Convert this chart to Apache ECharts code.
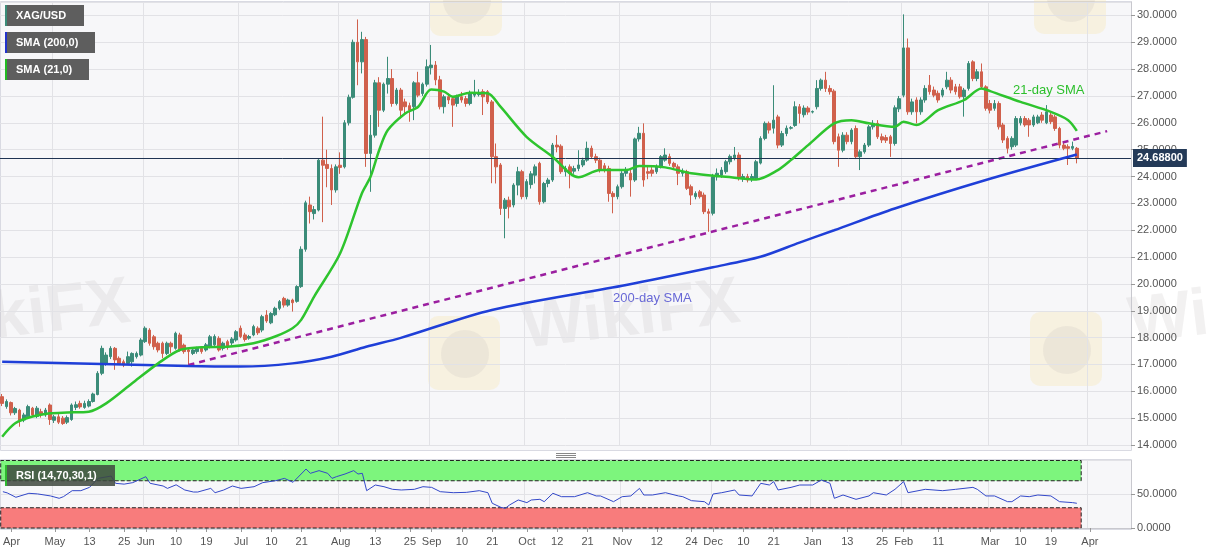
<!DOCTYPE html>
<html><head><meta charset="utf-8">
<script src="https://cdn.jsdelivr.net/npm/echarts/dist/echarts.min.js"></script>
<style>html,body{margin:0;padding:0;background:#fff}#c{width:1207px;height:555px}</style>
</head><body><div id="c"></div>
<script>
// ---------- data ----------
const startDate = '2020-04-15';
const endDate = '2021-04-14';
// daily candles from 2020-04-15 to 2021-03-29: [open, close, low, high]
const ohlc = [
[15.80,15.55,15.45,15.90],[15.43,15.62,15.35,15.70],[15.58,15.20,15.10,15.62],[15.20,15.36,15.12,15.42],
[15.30,14.93,14.68,15.35],[14.93,15.12,14.85,15.20],[15.05,15.43,14.98,15.50],[15.37,15.12,15.05,15.42],
[15.06,15.37,15.00,15.45],[15.24,15.12,15.02,15.35],[15.12,15.30,15.05,15.38],[15.49,14.95,14.75,15.55],
[14.92,15.05,14.82,15.12],[15.05,14.85,14.78,15.15],[15.00,14.80,14.75,15.08],[14.85,15.02,14.78,15.10],
[14.95,15.49,14.90,15.55],[15.40,15.50,15.30,15.62],[15.55,15.42,15.35,15.65],[15.40,15.55,15.35,15.65],
[15.45,15.62,15.40,15.70],[15.62,15.90,15.58,15.95],[15.88,16.67,15.85,16.75],[16.67,17.60,16.60,17.70],
[17.00,17.35,16.95,17.45],[17.29,17.60,17.20,17.68],[17.60,17.17,16.80,17.65],[17.23,17.04,16.98,17.30],
[17.10,16.98,16.90,17.18],[17.04,17.29,16.98,17.48],[17.10,17.41,16.92,17.45],[17.29,17.41,17.22,17.48],
[17.35,17.91,17.30,17.98],
[17.85,18.35,17.80,18.42],[18.28,17.79,17.70,18.35],[18.03,17.66,17.55,18.10],[17.79,17.54,17.45,17.85],
[17.79,17.41,17.23,17.85],[17.41,17.79,17.35,17.85],[17.79,17.66,17.42,17.85],[17.60,18.16,17.55,18.22],
[18.10,17.54,17.48,18.18],[17.72,17.48,17.40,17.78],[17.54,17.48,16.98,17.60],[17.41,17.54,17.35,17.62],
[17.48,17.60,17.40,17.66],[17.60,17.48,17.40,17.66],[17.54,17.73,17.48,17.80],[17.66,18.03,17.60,18.10],
[17.73,18.04,17.68,18.12],[17.97,17.54,17.48,18.05],[17.60,17.79,17.52,17.85],[17.85,17.66,17.55,17.92],
[17.80,17.95,17.72,18.02],[17.91,18.22,17.85,18.28],
[18.35,18.04,17.98,18.45],[18.10,17.93,17.85,18.18],[17.98,18.04,17.92,18.10],[18.10,18.41,18.05,18.48],
[18.35,18.18,18.10,18.42],[18.28,18.78,18.20,18.85],[18.84,18.62,18.55,19.02],[18.55,18.90,18.50,18.95],
[18.85,19.09,18.80,19.15],[19.09,19.34,19.02,19.40],[19.46,19.21,19.12,19.52],[19.21,19.40,19.15,19.45],
[19.40,19.30,18.97,19.45],[19.35,19.90,19.30,19.95],[19.90,21.29,19.85,21.40],[21.29,23.02,21.20,23.10],
[22.94,22.69,22.25,23.25],[22.62,22.77,22.40,22.90],[22.75,24.61,22.70,24.65],[24.61,24.42,22.30,26.23],
[24.45,24.30,23.60,25.00],[24.30,23.50,22.94,24.45],[23.50,24.36,23.40,24.45],
[24.42,24.34,24.10,24.90],[24.36,26.00,24.30,26.10],[26.00,26.95,25.90,27.05],[26.95,29.00,26.90,29.10],
[29.00,28.27,27.40,29.85],[28.27,29.10,27.84,29.39],[29.10,24.86,24.36,29.20],[24.86,25.54,23.43,26.29],
[25.54,27.49,25.45,27.60],[27.49,26.47,25.85,27.70],[26.47,27.44,26.40,27.50],[27.44,27.65,27.09,28.46],
[27.65,26.72,26.60,28.00],[26.72,27.22,26.65,27.30],[27.22,26.47,26.16,27.30],[26.78,26.60,26.30,26.90],
[26.64,26.47,26.04,26.75],[26.60,27.49,26.10,27.55],[27.49,27.03,26.95,27.90],[27.09,27.44,27.00,27.50],
[27.44,28.09,27.35,28.36],
[28.05,28.15,27.80,28.90],[28.15,27.60,27.40,28.30],[27.60,26.60,26.50,27.75],[26.60,26.97,26.35,27.05],
[26.97,26.85,26.70,27.10],[26.90,26.66,25.85,27.00],[26.72,26.97,26.60,27.05],[26.97,26.85,26.75,27.15],
[26.90,26.72,26.60,27.00],[26.72,27.10,26.65,27.20],[27.03,27.10,26.95,27.60],[27.05,27.12,26.98,27.25],
[27.16,26.97,26.29,27.25],[27.16,26.78,26.70,27.22],[26.78,24.74,23.75,26.85],[24.74,24.36,23.74,25.23],
[24.43,22.81,22.57,24.50],[22.81,23.12,21.70,23.20],[23.12,22.87,22.44,23.25],[22.94,23.68,22.85,23.75],
[23.68,24.18,23.30,24.36],[24.18,23.25,23.15,24.25],
[23.25,23.81,23.15,23.90],[23.70,24.10,23.55,24.20],[24.05,24.36,23.74,24.45],[24.49,23.06,22.95,24.55],
[23.06,23.74,23.00,23.80],[23.74,23.87,23.60,23.95],[23.87,25.17,23.80,25.25],[25.17,25.10,24.90,25.54],
[25.13,24.18,24.10,25.20],[24.18,24.30,24.00,24.40],[24.36,24.12,23.56,24.45],[24.20,24.30,24.10,24.40],
[24.30,24.43,24.20,24.98],[24.43,24.61,24.35,24.70],[24.61,25.05,24.55,25.30],[25.05,24.74,24.65,25.15],
[24.74,24.61,24.50,24.85],[24.61,24.24,24.15,24.70],[24.40,24.25,24.15,24.50],[24.30,23.37,23.06,24.40],
[23.37,23.25,22.63,23.45],[23.25,23.62,23.15,23.70],
[23.62,24.12,23.55,24.20],[24.12,24.24,24.00,24.35],[24.12,23.87,23.25,24.25],[23.87,25.40,23.80,25.45],
[25.40,25.61,25.30,25.85],[25.61,23.87,23.62,25.98],[24.18,24.12,23.90,24.40],[24.24,24.12,24.00,24.35],
[24.18,24.36,24.10,24.45],[24.36,24.74,24.30,24.80],[24.61,24.80,24.55,25.05],[24.74,24.49,24.40,24.85],
[24.49,24.36,24.28,24.55],[24.36,24.12,23.68,24.45],[24.12,24.20,24.00,24.30],[24.18,23.56,23.50,24.25],
[23.62,23.31,22.94,23.70],[23.25,23.37,23.15,23.45],[23.43,23.25,23.18,23.50],[23.31,22.69,22.60,23.40],
[22.69,22.63,21.94,22.80],
[22.63,23.99,22.55,24.10],[23.99,24.12,23.85,24.30],[24.05,24.24,23.95,24.35],[24.18,24.55,24.10,24.62],
[24.55,24.75,24.45,24.82],[24.70,24.80,24.60,25.10],[24.80,23.93,23.85,24.90],[23.93,24.00,23.80,24.10],
[24.00,23.87,23.78,24.10],[23.90,24.00,23.80,24.10],[23.93,24.55,23.88,24.62],[24.50,25.42,24.45,25.50],
[25.42,25.98,25.35,26.05],[25.98,25.73,25.60,26.05],[25.80,26.10,25.60,27.40],[26.22,25.17,25.05,26.30],
[25.17,25.60,25.10,25.70],[25.60,25.80,25.50,25.90],[25.80,25.82,25.75,25.88],[25.90,26.60,25.85,26.80],
[26.60,26.35,25.98,26.70],[26.30,26.55,26.20,26.65],[26.55,26.40,26.30,26.62],
[26.40,26.42,26.35,26.46],[26.60,27.28,26.50,27.59],[27.28,27.59,27.20,27.65],[27.59,27.28,27.15,27.90],
[27.28,27.16,27.05,27.40],[27.18,25.30,25.20,27.25],[25.48,24.98,24.36,25.60],[24.98,25.54,24.90,25.65],
[25.54,25.30,25.20,25.65],[25.30,25.73,25.20,25.80],[25.79,24.74,24.65,25.90],[24.74,24.92,24.24,25.00],
[24.92,25.17,24.85,25.25],[25.17,25.85,25.10,25.92],[25.85,25.98,25.75,26.10],[25.98,25.48,25.40,26.10],
[25.48,25.36,25.25,25.60],[25.45,25.35,25.25,25.55],[25.48,25.23,24.73,25.55],[25.23,26.56,25.15,26.65],
[26.52,26.90,26.40,27.00],
[27.03,28.79,26.95,30.04],[28.79,26.41,26.30,29.14],[26.41,26.78,26.30,26.90],[26.85,26.41,25.98,26.95],
[26.41,26.85,26.30,26.95],[26.85,27.28,26.75,27.40],[27.40,27.16,27.05,27.78],[27.22,27.03,26.95,27.35],
[27.10,26.85,26.75,27.20],[27.03,27.22,26.95,27.30],[27.34,27.59,27.25,27.90],[27.59,27.22,27.10,27.70],
[27.34,27.16,27.05,27.45],[27.34,26.97,26.90,27.45],[26.97,27.22,26.23,27.30],[27.28,28.21,27.20,28.30],
[28.27,27.65,27.55,28.33],[27.65,27.90,27.55,28.00],[27.90,27.34,27.25,28.21],[27.34,26.54,26.45,27.40],
[26.72,26.47,26.35,26.85],[26.54,26.72,26.45,26.85],[26.72,25.85,25.75,26.80],[25.92,25.36,25.25,26.00],
[25.42,25.05,24.86,25.50],[25.11,25.42,25.00,25.50],[25.17,26.16,25.10,26.25],[26.00,26.16,25.90,26.25],
[26.16,25.92,25.85,26.25],[26.10,25.92,25.48,26.18],[25.92,26.22,25.85,26.30],[26.00,26.22,25.95,26.30],
[26.29,26.10,26.00,26.40],[26.00,26.41,25.95,26.66],[26.29,26.04,25.95,26.40],[26.22,25.79,25.70,26.30],
[25.79,25.17,25.05,25.85],[25.17,25.05,24.98,25.30],[25.11,25.05,24.43,25.20],[25.05,25.12,24.98,25.30],
[25.05,24.69,24.49,25.10]
];
// [category index, value]
const sma200 = [[0,17.10],[23,17.02],[43,16.94],[55,16.92],[67,17.04],[76,17.29],[84,17.66],[92,17.99],
[113,19.03],[144,19.96],[164,20.62],[175,21.01],[184,21.54],[192,22.0],[206,22.81],[227,23.87],[248,24.82]];
const sma21 = [[0,14.31],[3,14.81],[7,15.06],[11,15.18],[15,15.21],[20,15.24],[24,15.55],[30,16.3],[36,17.04],
[41,17.54],[46,17.64],[52,17.66],[58,17.79],[63,18.04],[67,18.35],[69,18.66],[72,19.53],[78,21.14],[83,23.37],
[85,23.99],[87,24.98],[89,25.73],[93,26.35],[96,26.6],[99,27.24],[102,27.16],[104,26.97],[108,27.12],[112,27.1],
[115,26.6],[121,25.48],[127,24.74],[133,23.97],[138,24.24],[144,24.24],[147,24.39],[153,24.34],[159,24.12],
[167,23.99],[174,23.89],[179,24.24],[182,24.61],[186,25.17],[192,25.98],[196,26.1],[200,25.98],[206,25.85],
[208,26.04],[211,25.92],[216,26.47],[222,26.85],[226,27.28],[228,27.18],[235,26.78],[242,26.41],[246,26.1],[248,25.7]];
const trendline = [[43,16.98],[255,25.69]];
const rsi = [[0,53.8],[1,52],[3,45.5],[6,51.4],[8,50.5],[11,47.5],[13,44],[14,46.5],[16,55.3],[18,55.3],[20,60.2],
[22,73.5],[25,77],[26,66.2],[28,65],[30,67.2],[33,76],[34,66.2],[37,62.2],[38,58.7],[40,64],[42,56.3],[44,53.3],
[45,53.3],[48,58.7],[49,52.3],[51,56.3],[53,62.2],[55,58.7],[58,61.2],[60,67.2],[63,70.1],[65,73.5],[67,67.7],
[70,87.4],[71,81],[73,85],[75,81],[76,73.5],[77,76],[79,80],[81,85],[82,80],[83,81],[84,55.3],[86,63.7],[88,61.2],
[90,57.3],[92,56.3],[95,57.3],[97,61.2],[99,60.2],[101,53.8],[104,52.3],[107,52.8],[110,55.3],[112,52.3],[113,36.6],
[115,30.6],[116,29.1],[117,34.1],[119,41.5],[121,37.6],[122,41.5],[124,42.5],[125,39],[127,51.4],[129,46.4],
[132,46.4],[135,52.3],[137,47.5],[138,47.5],[141,39],[143,46.4],[145,47.5],[147,58.7],[148,48.9],[150,48.9],
[153,52.3],[156,47.5],[157,46.4],[159,40.5],[162,39],[163,34.1],[164,50.4],[166,52.3],[169,56.3],[170,48.9],
[173,47.5],[175,66.2],[177,63.7],[178,68.7],[179,56.3],[182,60.2],[184,63.7],[187,63.7],[189,71.1],[191,66.2],
[192,44],[194,48.9],[197,42.5],[200,47.5],[201,52.3],[204,48.9],[206,57.3],[208,68.7],[209,52.3],[213,57.3],
[217,55.3],[220,57.3],[224,60.2],[225,57.3],[227,47.5],[229,47.5],[232,39],[233,39],[235,47.5],[237,46.4],
[239,48.9],[242,47.5],[244,39],[247,37.6],[248,36.6]];
const lastPrice = 24.688;
const rsiLevels = [30, 70];
const rsiZoneEnd = 249;
const xLabels = [[2,'Apr'],[12,'May'],[20,'13'],[28,'25'],[33,'Jun'],[40,'10'],[47,'19'],[55,'Jul'],[62,'10'],
[69,'21'],[78,'Aug'],[86,'13'],[94,'25'],[99,'Sep'],[106,'10'],[113,'21'],[121,'Oct'],[128,'12'],[135,'21'],
[143,'Nov'],[151,'12'],[159,'24'],[164,'Dec'],[171,'10'],[178,'21'],[187,'Jan'],[195,'13'],[203,'25'],
[208,'Feb'],[216,'11'],[228,'Mar'],[235,'10'],[242,'19'],[251,'Apr']];
const monthStarts = [12,33,55,78,99,121,143,164,187,208,228,251];

// ---------- build ----------
function weekdays(s, e) {
  const out = []; const d = new Date(s + 'T00:00:00Z'); const end = new Date(e + 'T00:00:00Z');
  while (d <= end) { const w = d.getUTCDay(); if (w !== 0 && w !== 6) out.push(d.toISOString().slice(0, 10)); d.setUTCDate(d.getUTCDate() + 1); }
  return out;
}
const cats = weekdays(startDate, endDate);
const labelMap = new Map(xLabels);
const monthSet = new Set(monthStarts);
const FONT = '"Liberation Sans", Arial, sans-serif';
const UP = '#3b8c79', DOWN = '#d0604c';

function tag(x, y, w, h, stripe, label, bg) {
  return { type: 'group', left: x, top: y, z: 100, children: [
    { type: 'rect', z: 100, shape: { x: 0, y: 0, width: w, height: h }, style: { fill: bg } },
    { type: 'rect', z: 101, shape: { x: 0, y: 0, width: 2, height: h }, style: { fill: stripe } },
    { type: 'text', z: 102, x: 11, y: h / 2, style: { text: label, fill: '#fff', font: 'bold 11px ' + FONT, textVerticalAlign: 'middle', verticalAlign: 'middle' } }
  ] };
}
const wmText = 'rgba(185,175,175,0.18)', wmLogo = 'rgba(248,226,160,0.28)', wmEmblem = 'rgba(150,135,150,0.10)';
function logo(x, y) {
  return [
    { type: 'rect', left: x, top: y, z: -5, silent: true, shape: { width: 72, height: 74, r: 10 }, style: { fill: wmLogo } },
    { type: 'circle', z: -4, silent: true, shape: { cx: x + 37, cy: y + 38, r: 24 }, style: { fill: wmEmblem } }
  ];
}

const chart = echarts.init(document.getElementById('c'));
chart.setOption({
  animation: false,
  backgroundColor: '#fff',
  textStyle: { fontFamily: FONT },
  grid: [
    { left: 0, right: 76, top: 2, height: 443 },
    { left: 0, right: 76, top: 460.5, height: 67.5 }
  ],
  xAxis: [
    { gridIndex: 0, type: 'category', data: cats, boundaryGap: true,
      axisLine: { show: false }, axisTick: { show: false }, axisLabel: { show: false },
      splitLine: { show: true, interval: (i) => monthSet.has(i), lineStyle: { color: '#e2e2e6' } } },
    { gridIndex: 1, type: 'category', data: cats, boundaryGap: true,
      axisLine: { show: true, lineStyle: { color: '#c8c8ce' } },
      axisTick: { show: true, alignWithLabel: true, interval: (i) => labelMap.has(i), length: 4, lineStyle: { color: '#999' } },
      axisLabel: { interval: (i) => labelMap.has(i), formatter: (v, i) => labelMap.get(i) || '', color: '#555', fontSize: 11, margin: 8 },
      splitLine: { show: true, interval: (i) => monthSet.has(i), lineStyle: { color: '#e2e2e6' } } }
  ],
  yAxis: [
    { gridIndex: 0, type: 'value', position: 'right', min: 14, max: 30.5, interval: 1,
      axisLine: { show: true, lineStyle: { color: '#c8c8ce' } },
      axisTick: { show: true, length: 4, lineStyle: { color: '#999' } },
      axisLabel: { color: '#555', fontSize: 11, margin: 6, showMaxLabel: false, formatter: (v) => v.toFixed(4) },
      splitLine: { lineStyle: { color: '#e2e2e6' } } },
    { gridIndex: 1, type: 'value', position: 'right', min: 0, max: 100, interval: 50,
      axisLine: { show: true, lineStyle: { color: '#c8c8ce' } },
      axisTick: { show: true, length: 4, lineStyle: { color: '#999' } },
      axisLabel: { color: '#555', fontSize: 11, margin: 6, showMaxLabel: false, formatter: (v) => v.toFixed(4) },
      splitLine: { lineStyle: { color: '#e2e2e6' } } }
  ],
  series: [
    { type: 'candlestick', name: 'XAG/USD', xAxisIndex: 0, yAxisIndex: 0, data: ohlc, barWidth: 3, z: 3,
      itemStyle: { color: UP, color0: DOWN, borderColor: UP, borderColor0: DOWN, borderWidth: 1 },
      markLine: { silent: true, symbol: ['none', 'none'], animation: false,
        lineStyle: { color: '#1f3352', width: 1, type: 'solid' },
        label: { show: true, position: 'end', distance: 2, formatter: () => lastPrice.toFixed(5),
          color: '#fff', backgroundColor: '#243a58', padding: [4, 4, 3, 4], fontSize: 11, fontWeight: 'bold' },
        data: [{ yAxis: lastPrice }] } },
    { type: 'line', name: 'trend', xAxisIndex: 0, yAxisIndex: 0, data: trendline, symbol: 'none', z: 4,
      lineStyle: { color: '#9b1fa0', width: 2.5, type: [6, 5] } },
    { type: 'line', name: 'SMA (200,0)', xAxisIndex: 0, yAxisIndex: 0, data: sma200, symbol: 'none', smooth: 0.3, z: 5,
      lineStyle: { color: '#1f3fd8', width: 2.5 } },
    { type: 'line', name: 'SMA (21,0)', xAxisIndex: 0, yAxisIndex: 0, data: sma21, symbol: 'none', smooth: 0.3, z: 5,
      lineStyle: { color: '#2ec42e', width: 2.5 } },
    { type: 'line', name: 'zones', xAxisIndex: 1, yAxisIndex: 1, data: [], z: 1,
      markArea: { silent: true, itemStyle: { borderColor: '#222', borderWidth: 1, borderType: 'dashed' },
        data: [
          [{ yAxis: rsiLevels[1], itemStyle: { color: '#7df57d', borderColor: '#222', borderWidth: 1, borderType: 'dashed' } }, { xAxis: cats[rsiZoneEnd], yAxis: 100 }],
          [{ yAxis: 0, itemStyle: { color: '#f87c7c', borderColor: '#222', borderWidth: 1, borderType: 'dashed' } }, { xAxis: cats[rsiZoneEnd], yAxis: rsiLevels[0] }]
        ] } },
    { type: 'line', name: 'RSI', xAxisIndex: 1, yAxisIndex: 1, data: rsi, symbol: 'none', z: 6,
      lineStyle: { color: '#3348c9', width: 1 } }
  ],
  graphic: [
    { type: 'rect', left: 0, top: 1, z: -10, silent: true, shape: { width: 1131, height: 449 }, style: { fill: '#f7f7f9', stroke: '#d9dae2' } },
    { type: 'rect', left: 0, top: 459, z: -10, silent: true, shape: { width: 1131, height: 70 }, style: { fill: '#f7f7f9', stroke: '#d9dae2' } },
    // watermarks
    ...logo(428, 316), ...logo(1030, 312), ...logo(430, -38), ...logo(1034, -40),
    { type: 'text', x: -92, y: 297, rotation: 0.12, z: -5, silent: true, style: { text: 'WikiFX', fill: wmText, font: 'bold 66px ' + FONT } },
    { type: 'text', x: 518, y: 297, rotation: 0.12, z: -5, silent: true, style: { text: 'WikiFX', fill: wmText, font: 'bold 66px ' + FONT } },
    { type: 'text', x: 1125, y: 292, rotation: 0.12, z: -5, silent: true, style: { text: 'WikiFX', fill: wmText, font: 'bold 66px ' + FONT } },
    // panel separator
    { type: 'line', z: 10, silent: true, shape: { x1: 556, y1: 453.5, x2: 576, y2: 453.5 }, style: { stroke: '#888', lineWidth: 1 } },
    { type: 'line', z: 10, silent: true, shape: { x1: 556, y1: 455.5, x2: 576, y2: 455.5 }, style: { stroke: '#888', lineWidth: 1 } },
    { type: 'line', z: 10, silent: true, shape: { x1: 556, y1: 457.5, x2: 576, y2: 457.5 }, style: { stroke: '#888', lineWidth: 1 } },
    // legend tags
    tag(5, 5, 79, 21, UP, 'XAG/USD', '#5e5e5e'),
    tag(5, 32, 90, 21, '#2233cc', 'SMA (200,0)', '#5e5e5e'),
    tag(5, 59, 84, 21, '#22bb22', 'SMA (21,0)', '#5e5e5e'),
    tag(5, 465, 110, 21, '#2fb82f', 'RSI (14,70,30,1)', 'rgba(62,72,62,0.85)'),
    // annotations
    { type: 'text', left: 1013, top: 84, z: 50, style: { text: '21-day SMA', fill: '#2cbf2c', font: '13px ' + FONT } },
    { type: 'text', left: 613, top: 292, z: 50, style: { text: '200-day SMA', fill: '#6868d6', font: '13px ' + FONT } }
  ]
});
</script>
</body></html>
